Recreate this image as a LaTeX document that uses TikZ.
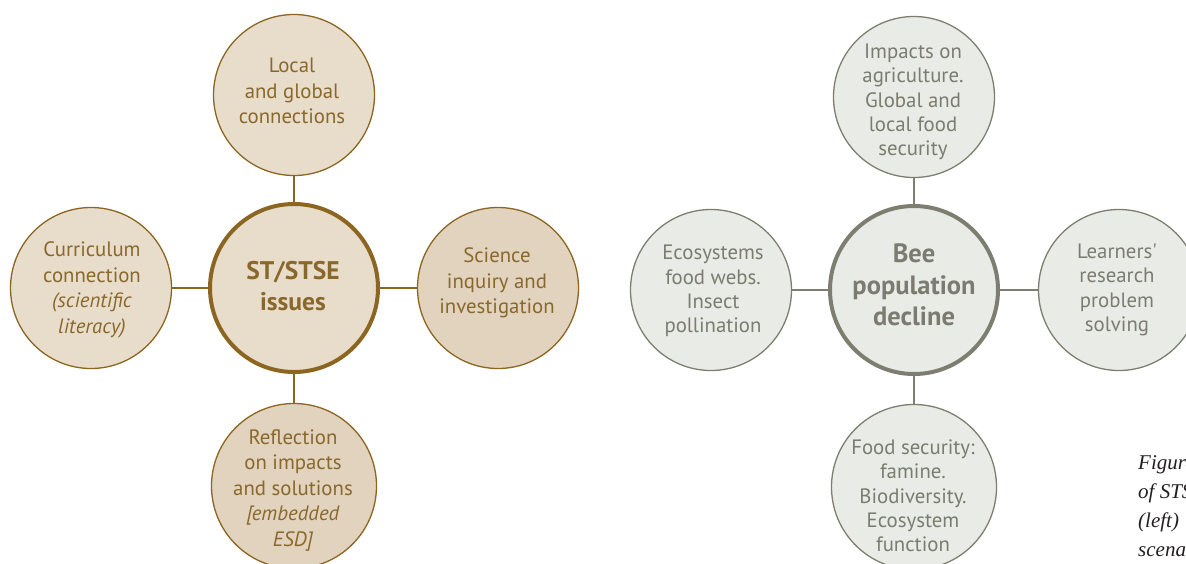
\documentclass[tikz,border=0pt]{standalone}
\usepackage{fontspec}
\setmainfont{Liberation Serif}
\newfontfamily\mysans{PT Sans}
\usetikzlibrary{calc}
\definecolor{brLine}{HTML}{8C6521}
\definecolor{brText}{HTML}{8A682C}
\definecolor{brFillA}{HTML}{E8DDCB}
\definecolor{brFillB}{HTML}{E1D3BD}
\definecolor{grLine}{HTML}{7E7E70}
\definecolor{grText}{HTML}{7B7C6F}
\definecolor{grFill}{HTML}{E9EBE6}
\definecolor{capText}{HTML}{231F20}
\tikzset{
  outerBr/.style={circle, draw=brLine, line width=1.3pt, minimum size=161pt, inner sep=0pt},
  centerBr/.style={circle, draw=brLine, line width=4pt, fill=brFillA, minimum size=168pt, inner sep=0pt},
  outerGr/.style={circle, draw=grLine, line width=1.3pt, fill=grFill, minimum size=161pt, inner sep=0pt},
  centerGr/.style={circle, draw=grLine, line width=4pt, fill=grFill, minimum size=168pt, inner sep=0pt},
  txtBr/.style={align=center, text=brText, font=\mysans\fontsize{20.8}{25.5}\selectfont, inner sep=0pt},
  txtBrBold/.style={align=center, text=brText, font=\mysans\bfseries\fontsize{25.5}{31}\selectfont, inner sep=0pt},
  txtGr/.style={align=center, text=grText, font=\mysans\fontsize{20.8}{24.3}\selectfont, inner sep=0pt},
  txtGrBold/.style={align=center, text=grText, font=\mysans\bfseries\fontsize{26.5}{31.5}\selectfont, inner sep=0pt},
  conBr/.style={draw=brLine, line width=2.8pt},
  conGr/.style={draw=grLine, line width=2.8pt},
  capStyle/.style={anchor=base west, inner sep=0pt, text=capText, font=\itshape\fontsize{21}{26}\selectfont}
}
\begin{document}
\begin{tikzpicture}[x=1pt,y=-1pt]
\useasboundingbox (0,0) rectangle (1186,563);
\begin{scope}
\clip (0,0) rectangle (1186,563);
% ---------- left diagram ----------
\node[centerBr] (lc) at (294,288) {};
\node[outerBr, fill=brFillA] (lt) at (294,95) {};
\node[outerBr, fill=brFillA] (ll) at (91,288) {};
\node[outerBr, fill=brFillB] (lr) at (498,288) {};
\node[outerBr, fill=brFillB, minimum size=165pt] (lb) at (294,486) {};
\draw[conBr] (lc) -- (lt);
\draw[conBr] (lc) -- (ll);
\draw[conBr] (lc) -- (lr);
\draw[conBr] (lc) -- (lb);
\node[txtBrBold] (lcT) at (293,286) {ST/STSE\\issues};
\node[txtBr] (ltT) at (292,91) {Local\\and global\\connections};
\node[txtBr] (llT) at (92,290) {Curriculum\\connection\\\textit{(scientific}\\\textit{literacy)}};
\node[txtBr] (lrT) at (497,283) {Science\\inquiry and\\investigation};
\node[txtBr] (lbT) at (293,490) {Reflection\\on impacts\\and solutions\\\textit{[embedded}\\\textit{ESD]}};
% ---------- right diagram ----------
\node[centerGr] (rc) at (914,290) {};
\node[outerGr] (rt) at (914,97) {};
\node[outerGr] (rl) at (711,290) {};
\node[outerGr] (rr) at (1119,290) {};
\node[outerGr, minimum size=165pt] (rb) at (914,487) {};
\draw[conGr] (rc) -- (rt);
\draw[conGr] (rc) -- (rl);
\draw[conGr] (rc) -- (rr);
\draw[conGr] (rc) -- (rb);
\node[txtGrBold] (rcT) at (914,285) {Bee\\population\\decline};
\node[txtGr] (rtT) at (913,102) {Impacts on\\agriculture.\\Global and\\local food\\security};
\node[txtGr] (rlT) at (713,291) {Ecosystems\\food webs.\\Insect\\pollination};
\node[txtGr] (rrT) at (1117,290) {Learners'\\research\\problem\\solving};
\node[txtGr] (rbT) at (913,496) {Food security:\\famine.\\Biodiversity.\\Ecosystem\\function};
% ---------- caption ----------
\node[capStyle] (cap1) at (1138,469) {Figure};
\node[capStyle] (cap2) at (1138,498) {of STSE};
\node[capStyle] (cap3) at (1138,527) {(left)};
\node[capStyle] (cap4) at (1138,556) {scenario};
\end{scope}
\end{tikzpicture}
\end{document}
